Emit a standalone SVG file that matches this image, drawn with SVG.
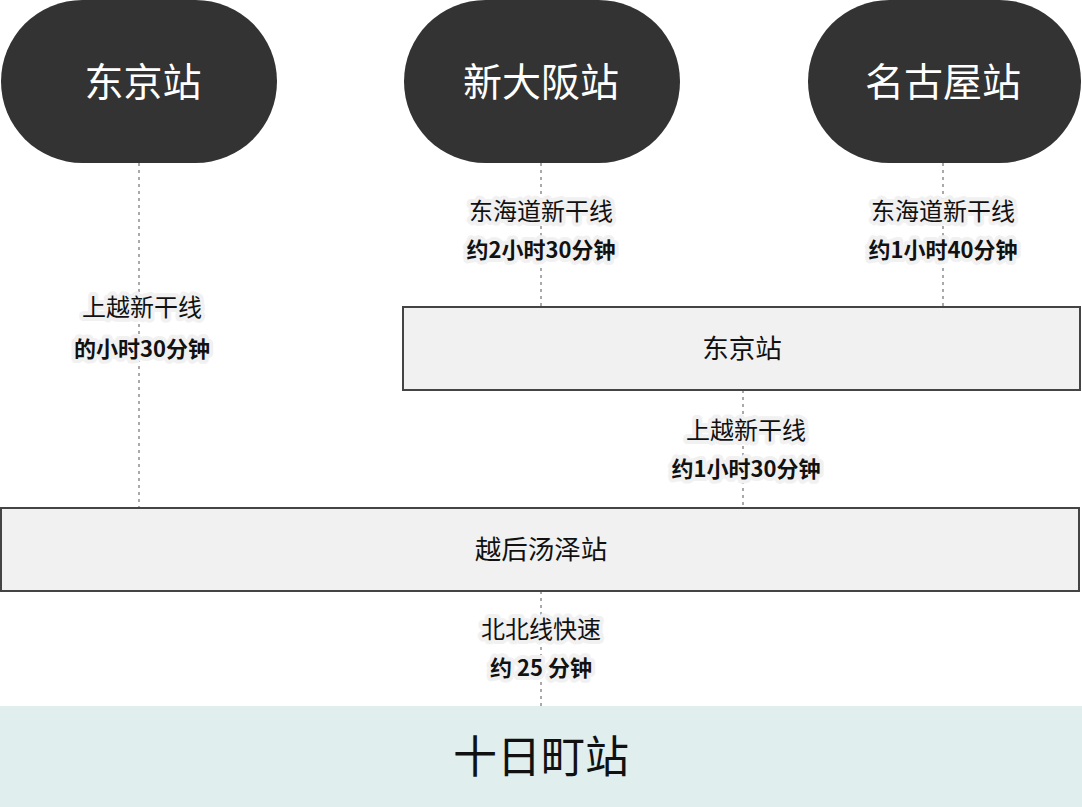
<svg xmlns="http://www.w3.org/2000/svg" width="1082" height="807" viewBox="0 0 1082 807">
<style>
text{font-family:"Noto Sans CJK SC","Noto Sans",sans-serif;text-anchor:middle;dominant-baseline:central}
.pill{fill:#333333}
.pt{fill:#ffffff;font-size:39px}
.box{fill:#f1f1f1;stroke:#444444;stroke-width:2}
.bt{fill:#111111;font-size:26.5px}
.con{stroke:#555555;stroke-width:1;stroke-dasharray:3,4;fill:none}
.l1{fill:#111111;font-size:24px;paint-order:stroke;stroke:#f1f1f1;stroke-width:8;stroke-linejoin:round}
.l2{fill:#111111;font-size:22px;font-weight:bold;paint-order:stroke;stroke:#f1f1f1;stroke-width:8;stroke-linejoin:round}
</style>
<rect width="1082" height="807" fill="#ffffff"/>
<g id="connectors">
<line class="con" x1="139" y1="163" x2="139" y2="507"/>
<line class="con" x1="541" y1="163" x2="541" y2="306"/>
<line class="con" x1="943" y1="163" x2="943" y2="306"/>
<line class="con" x1="743" y1="390" x2="743" y2="507"/>
<line class="con" x1="541" y1="591" x2="541" y2="706"/>
</g>
<g id="node-tokyo">
<rect class="pill" x="1" y="0" width="276" height="163" rx="81.5"/>
<text class="pt" x="143" y="79">东京站</text>
</g>
<g id="node-shinosaka">
<rect class="pill" x="404" y="0" width="276" height="163" rx="81.5"/>
<text class="pt" x="541" y="79">新大阪站</text>
</g>
<g id="node-nagoya">
<rect class="pill" x="808" y="0" width="273" height="163" rx="81.5"/>
<text class="pt" x="943" y="79">名古屋站</text>
</g>
<g id="node-tokyo-box">
<rect class="box" x="403" y="307" width="677" height="83"/>
<text class="bt" x="742" y="346">东京站</text>
</g>
<g id="node-echigo">
<rect class="box" x="1" y="508" width="1078" height="83"/>
<text class="bt" x="541" y="547">越后汤泽站</text>
</g>
<g id="node-tokamachi">
<rect x="0" y="706" width="1082" height="101" fill="#e0eeee"/>
<text x="541" y="754" fill="#111111" font-size="44">十日町站</text>
</g>
<g id="labels">
<text class="l1" x="142" y="305">上越新干线</text>
<text class="l2" x="142" y="347">的小时30分钟</text>
<text class="l1" x="541" y="209">东海道新干线</text>
<text class="l2" x="541" y="248">约2小时30分钟</text>
<text class="l1" x="943" y="209">东海道新干线</text>
<text class="l2" x="943" y="248">约1小时40分钟</text>
<text class="l1" x="746" y="428">上越新干线</text>
<text class="l2" x="746" y="467">约1小时30分钟</text>
<text class="l1" x="541" y="627">北北线快速</text>
<text class="l2" x="541" y="666">约 25 分钟</text>
</g>
</svg>
